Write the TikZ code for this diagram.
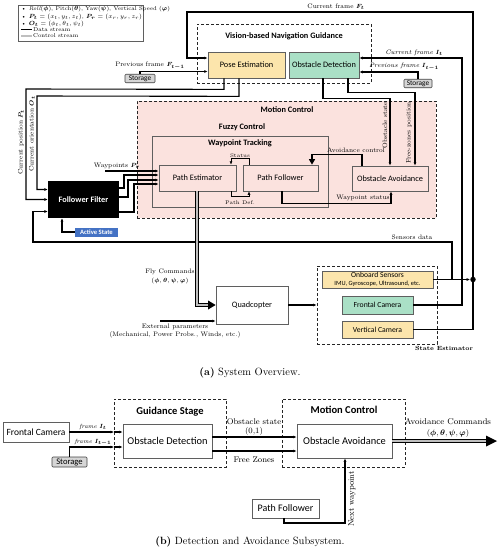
\documentclass[tikz,border=0pt]{standalone}
\usepackage{fontspec}
\usepackage{amsmath,bm}
\newfontfamily\carl{Carlito}
\usetikzlibrary{arrows.meta,calc}
\definecolor{ylw}{RGB}{252,229,172}
\definecolor{grn}{RGB}{170,224,198}
\definecolor{pnk}{RGB}{251,226,222}
\definecolor{blu}{RGB}{68,114,196}
\definecolor{stg}{RGB}{214,214,214}
\definecolor{bdr}{RGB}{95,95,95}
\tikzset{
  box/.style={draw=bdr, line width=0.7pt, inner sep=0pt, align=center, font=\carl\fontsize{8.3}{9.5}\selectfont},
  yb/.style={box, fill=ylw},
  gb/.style={box, fill=grn},
  pb/.style={box, fill=pnk},
  wb/.style={box, fill=white},
  dashbox/.style={draw=black!85, line width=0.9pt, dash pattern=on 3pt off 2pt, inner sep=0pt},
  stor/.style={draw=black!75, fill=stg, rounded corners=1pt, inner sep=0pt, line width=0.6pt, font=\carl\fontsize{7.3}{8}\selectfont},
  ttl/.style={font=\carl\bfseries\fontsize{8.3}{10}\selectfont, inner sep=0pt},
  bttl/.style={font=\carl\bfseries\fontsize{10.5}{12}\selectfont, inner sep=0pt},
  lab/.style={font=\fontsize{6.5}{7.5}\selectfont, inner sep=0.5pt, align=center},
  blab/.style={font=\fontsize{8.2}{9.5}\selectfont, inner sep=0.5pt, align=center},
  leg/.style={font=\fontsize{5.6}{6.5}\selectfont, inner sep=0pt, anchor=west},
  data/.style={line width=1.1pt},
  thin/.style={line width=0.6pt},
  arr/.style={-{Latex[length=3.4pt,width=3pt]}},
  ctrl/.style={draw=black, line width=0.7pt, double=gray!50, double distance=2pt},
  ctrlb/.style={draw=black, line width=0.7pt, double=gray!50, double distance=2.8pt},
}
\begin{document}
\begin{tikzpicture}[x=1pt,y=-1pt]
\useasboundingbox (0,0) rectangle (498,550);

% ---------- legend ----------
\node[draw=bdr, line width=0.5pt, minimum width=125pt, minimum height=36pt, inner sep=0pt] (legend) at (80.5,23) {};
\node[leg] (l1) at (21,9.5) {\textbullet\ \textit{Roll}($\bm\phi$), Pitch($\bm\theta$), Yaw($\bm\psi$), Vertical Speed ($\bm\varphi$)};
\node[leg] (l2) at (21,16.5) {\textbullet\ $\bm{P_t}=(x_t,y_t,z_t)$, $\bm{P_r}=(x_r,y_r,z_r)$};
\node[leg] (l3) at (21,23.5) {\textbullet\ $\bm{O_t}=(\phi_t,\theta_t,\psi_t)$};
\coordinate (ld1) at (21,29.5); \coordinate (ld2) at (32,29.5);
\draw[line width=1.5pt] (ld1) -- (ld2);
\node[leg] (l4) at (33,29.5) {Data stream};
\coordinate (lc1) at (21,36); \coordinate (lc2) at (32,36);
\draw[ctrl, line width=0.5pt, double distance=1.2pt] (lc1) -- (lc2);
\node[leg] (l5) at (33,36) {Control stream};

% ---------- vision guidance ----------
\node[dashbox, minimum width=174pt, minimum height=59pt] (vng) at (284,53.5) {};
\node[ttl] (vngt) at (284,36) {Vision-based Navigation Guidance};
\node[yb, minimum width=77pt, minimum height=26pt] (pose) at (246.5,65) {Pose Estimation};
\node[gb, minimum width=70pt, minimum height=26pt] (odet) at (324,65) {Obstacle Detection};
\node[stor, minimum width=30pt, minimum height=8.5pt] (st1) at (140,78.5) {Storage};
\node[stor, minimum width=28pt, minimum height=8.5pt] (st2) at (418,83.5) {Storage};

% ---------- motion control ----------
\node[dashbox, fill=pnk, minimum width=299pt, minimum height=117pt] (mc) at (286.5,159.5) {};
\node[ttl] (mct) at (287,110) {Motion Control};
\node[ttl] (fct) at (242,127) {Fuzzy Control};
\node[draw=bdr, line width=0.5pt, minimum width=176pt, minimum height=71pt, inner sep=0pt] (wt) at (240,171.5) {};
\node[ttl] (wtt) at (240,143) {Waypoint Tracking};
\node[pb, minimum width=77pt, minimum height=26pt] (pe) at (197.5,178) {Path Estimator};
\node[pb, minimum width=75pt, minimum height=26pt] (pf) at (280.5,178) {Path Follower};
\node[pb, minimum width=76pt, minimum height=25pt] (oa) at (390,178.5) {Obstacle Avoidance};

% ---------- follower filter ----------
\node[fill=black, minimum width=71pt, minimum height=37pt, inner sep=0pt, text=white, font=\carl\bfseries\fontsize{8.3}{10}\selectfont] (ff) at (83.5,199.5) {Follower Filter};
\node[fill=blu, text=white, font=\carl\bfseries\fontsize{6.6}{7}\selectfont, minimum width=43pt, minimum height=9pt, inner sep=0pt] (act) at (96.5,232) {Active State};

% ---------- quadcopter / state estimator ----------
\node[wb, minimum width=72pt, minimum height=38pt] (quad) at (252,305) {Quadcopter};
\node[dashbox, minimum width=120pt, minimum height=78pt] (se) at (377,305) {};
\node[font=\bfseries\fontsize{6}{7}\selectfont, inner sep=0pt] (set) at (444,348.5) {State Estimator};
\node[yb, minimum width=111pt, minimum height=17pt] (obs) at (377.5,279.5) {{\fontsize{7.6}{8}\selectfont Onboard Sensors}\\[-1.5pt]{\fontsize{6.4}{7}\selectfont IMU, Gyroscope, Ultrasound, etc.}};
\node[gb, minimum width=71pt, minimum height=18pt, font=\carl\fontsize{7.7}{9}\selectfont] (fc) at (377.5,305) {Frontal Camera};
\node[yb, minimum width=71pt, minimum height=17pt, font=\carl\fontsize{7.7}{9}\selectfont] (vc) at (377.5,329.5) {Vertical Camera};
\node[circle, fill=black, inner sep=0pt, minimum size=5.5pt] (dot) at (473,279.5) {};

% ---------- connectors (a) ----------
\draw[data,arr] (dot) |- (187,12) |- ([yshift=7pt]pose.west);
\draw[data] (vc.east) -| (dot);
\draw[data,arr] (obs.east) -- (dot);
\draw[data,arr] (fc.east) -| (462,58) -- ([yshift=7pt]odet.east);
\draw[data,arr] (st2.north) |- ([yshift=-7pt]odet.east);
\draw[data,arr] (st1.north) |- ([yshift=-6.5pt]pose.west);
\draw[data,arr] ([xshift=-22.5pt]pose.south) -- ++(0,11) -- (26,89) |- (ff.west);
\draw[data,arr] ([xshift=-7.5pt]pose.south) -- ++(0,18) -- (37,96) |- ([yshift=10pt]ff.west);
\coordinate (sd) at (452,279.5);
\draw[data,arr] (sd) |- (33,242) |- ([yshift=-12pt]ff.west);
\draw[data,arr] (act.west) -| ([xshift=-21.5pt]ff.south);
\coordinate (wp) at (105,171);
\draw[data,arr] (wp) -- ([yshift=7pt]pe.west);
\draw[data,arr] ([yshift=11.5pt]ff.east) -- (124,188) |- ([yshift=3pt]pe.west);
\draw[data,arr] ([yshift=2.5pt]ff.east) -- (128,197) |- ([yshift=-2pt]pe.west);
\draw[data,arr] ([yshift=-12.5pt]ff.east) -- (134,212) |- ([yshift=-6pt]pe.west);
\draw[thin,arr] ([xshift=-31.5pt]pf.north) -- ++(0,-6) -| ([xshift=33.5pt]pe.north);
\draw[thin,arr] ([xshift=33.5pt]pe.south) -- ++(0,5) -| ([xshift=-31.5pt]pf.south);
\draw[line width=1.3pt, -{Triangle[length=5.5pt,width=6pt]}] ([xshift=-28pt]oa.north) -- ++(0,-11) -| ([xshift=31.5pt]pf.north);
\draw[data,arr] ([xshift=1.5pt]pf.south) -- ++(0,12) -| ([xshift=1pt]oa.south);
\draw[data,arr] ([xshift=-1pt]odet.south) -- ++(0,20) -| (oa.north);
\draw[data,arr] ([xshift=24pt]odet.south) -- ++(0,14) -| ([xshift=25pt]oa.north);
\draw[ctrl, shorten >=6pt] ([xshift=-0.5pt]pe.south) |- (quad.west);
\fill ([xshift=-7.5pt,yshift=4.5pt]quad.west) -- (quad.west) -- ([xshift=-7.5pt,yshift=-4.5pt]quad.west) -- cycle;
\coordinate (ext) at (160,321);
\draw[data,arr] (ext) -- ([yshift=-16pt]quad.west);
\draw[data,arr] (quad.east) -- (se.west);

% ---------- labels (a) ----------
\node[lab] at (336,7) {Current frame $\bm{F_t}$};
\node[lab] at (414,53) {\textit{Current frame} $\bm{I_t}$};
\node[lab] at (404,67) {\textit{Previous frame} $\bm{I_{t-1}}$};
\node[lab] at (150,66) {Previous frame $\bm{F_{t-1}}$};
\node[lab, rotate=90] at (21,142) {Current position $\bm{P_t}$};
\node[lab, rotate=90] at (32,134) {Current orientation $\bm{O_t}$};
\node[lab] at (117,166) {Waypoints $\bm{P_r}$};
\node[lab, font=\fontsize{5.2}{6}\selectfont] at (240,155.5) {Status};
\node[lab, font=\fontsize{5.2}{6}\selectfont] at (240,203) {Path Def.};
\node[lab] at (356,150) {Avoidance control};
\node[lab] at (363,198) {Waypoint status};
\node[lab, rotate=90] at (385,125) {Obstacle state};
\node[lab, rotate=90] at (409,133) {Free-zones position};
\node[lab] at (412,237) {Sensors data};
\node[lab] at (170,272) {Fly Commands};
\node[lab] at (170,281) {$(\bm\phi,\bm\theta,\bm\psi,\bm\varphi)$};
\node[lab] at (175,327) {External parameters};
\node[lab] at (175,335) {(Mechanical, Power Probs., Winds, etc.)};
\node[font=\fontsize{10.5}{12}\selectfont, inner sep=0pt] at (250,373) {\textbf{(a)} System Overview.};

% ---------- part (b) ----------
\node[wb, minimum width=66pt, minimum height=20pt, font=\carl\fontsize{9.5}{11}\selectfont] (fcb) at (36,432) {Frontal Camera};
\node[stor, minimum width=35pt, minimum height=10pt, font=\carl\fontsize{8.6}{10}\selectfont] (stb) at (69.5,462) {Storage};
\node[dashbox, minimum width=112pt, minimum height=68pt] (gs) at (170,433) {};
\node[bttl] (gst) at (170,412) {Guidance Stage};
\node[wb, minimum width=89pt, minimum height=34pt, font=\carl\fontsize{10.4}{12}\selectfont] (odb) at (167.5,441) {Obstacle Detection};
\node[dashbox, minimum width=123pt, minimum height=68pt] (mcb) at (343.5,433) {};
\node[bttl] (mcbt) at (344,410) {Motion Control};
\node[wb, minimum width=95pt, minimum height=34pt, font=\carl\fontsize{10.4}{12}\selectfont] (oab) at (344.5,441) {Obstacle Avoidance};
\node[wb, minimum width=67pt, minimum height=19pt, font=\carl\fontsize{10}{12}\selectfont] (pfb) at (285.5,508.5) {Path Follower};

\coordinate (aI) at (114,432);
\coordinate (bI) at (114,447);
\draw[data,arr] (fcb.east) -- (aI);
\draw[data,arr] (aI) -- (odb.west |- aI);
\draw[data,arr] (stb.north) |- (bI);
\draw[data,arr] (bI) -- (odb.west |- bI);
\draw[data,arr] ([yshift=4pt]odb.east) -- ([yshift=4pt]oab.west);
\draw[data,arr] ([yshift=-10pt]odb.east) -- ([yshift=-10pt]oab.west);
\coordinate (outend) at (497,441);
\draw[ctrlb, shorten >=9pt] (oab.east) -- (outend);
\fill ([xshift=-11pt,yshift=5.5pt]outend) -- (outend) -- ([xshift=-11pt,yshift=-5.5pt]outend) -- cycle;
\coordinate (nw) at (345,523);
\draw[data,arr] ([xshift=-1.5pt]pfb.south) |- (nw) -- (nw |- oab.south);

\node[lab, font=\fontsize{6}{7}\selectfont] at (93,427) {\textit{frame} $\bm{I_t}$};
\node[lab, font=\fontsize{6}{7}\selectfont] at (93,442.5) {\textit{frame} $\bm{I_{t-1}}$};
\node[blab] at (254,422) {Obstacle state};
\node[blab] at (254,431.5) {(0,1)};
\node[blab] at (254,460) {Free Zones};
\node[blab, font=\fontsize{8.4}{9.5}\selectfont] at (448,422) {Avoidance Commands};
\node[blab] at (448,433) {$(\bm\phi,\bm\theta,\bm\psi,\bm\varphi)$};
\node[blab, rotate=90] at (352,499) {Next waypoint};
\node[font=\fontsize{10.5}{12}\selectfont, inner sep=0pt] at (250,542) {\textbf{(b)} Detection and Avoidance Subsystem.};
\end{tikzpicture}
\end{document}
